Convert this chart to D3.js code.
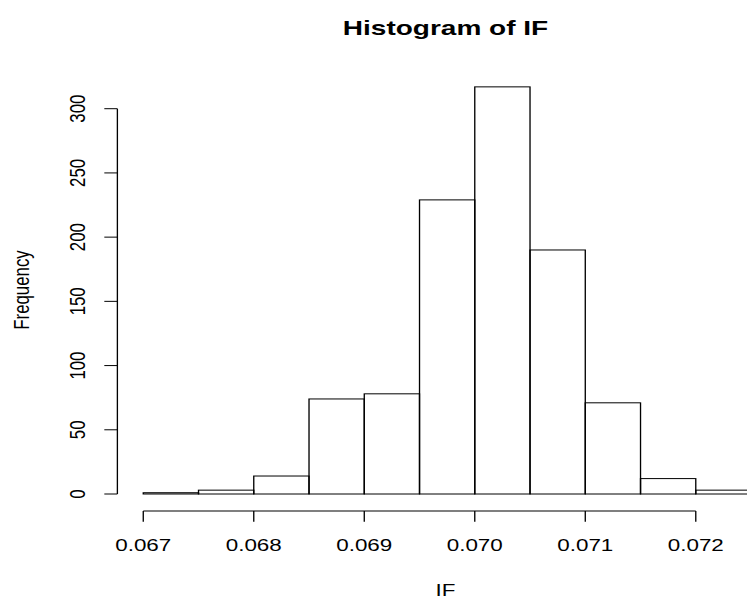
<!DOCTYPE html>
<html>
<head>
<meta charset="utf-8">
<script src="https://cdn.jsdelivr.net/npm/d3@7"></script>
<style>
  body { margin: 0; background: #fff; }
  text { font-family: "Liberation Sans", Arial, sans-serif; fill: #000; }
</style>
</head>
<body>
<script>
// histogram of IF, bins of width 0.0005
var breaks = [0.067, 0.0675, 0.068, 0.0685, 0.069, 0.0695, 0.070, 0.0705, 0.071, 0.0715, 0.072, 0.0725];
var counts = [1, 3, 14, 74, 78, 229, 317, 190, 71, 12, 3];
var xTicks = [0.067, 0.068, 0.069, 0.070, 0.071, 0.072];
var yTicks = [0, 50, 100, 150, 200, 250, 300];

var bins = counts.map(function (d, i) { return { x0: breaks[i], x1: breaks[i + 1], n: d }; });

// the picture is drawn 560 wide and stretched to 747
var W = 560, H = 599;
var svg = d3.select("body").append("svg")
      .attr("width", 747).attr("height", 599)
      .attr("viewBox", "0 0 " + W + " " + H)
      .attr("preserveAspectRatio", "none");

var x = d3.scaleLinear().domain([0.067, 0.072]).range([107.4, 521.6]);
var y = d3.scaleLinear().domain([0, 300]).range([494, 108.7]);

svg.selectAll("rect.bar")
      .data(bins)
      .enter().append("rect")
      .attr("class", "bar")
      .attr("x", function (d) { return x(d.x0); })
      .attr("y", function (d) { return y(d.n); })
      .attr("width", function (d) { return x(d.x1) - x(d.x0); })
      .attr("height", function (d) { return y(0) - y(d.n); })
      .attr("fill", "none")
      .attr("stroke", "#000")
      .attr("stroke-width", 1);

// x axis
var xAxis = svg.append("g").attr("transform", "translate(0,511)");
xAxis.append("line")
      .attr("x1", x(xTicks[0])).attr("x2", x(xTicks[xTicks.length - 1]))
      .attr("stroke", "#000");
xAxis.selectAll("line.tick")
      .data(xTicks)
      .enter().append("line")
      .attr("class", "tick")
      .attr("x1", function (d) { return x(d); }).attr("x2", function (d) { return x(d); })
      .attr("y1", 0).attr("y2", 10.7)
      .attr("stroke", "#000");
xAxis.selectAll("text")
      .data(xTicks)
      .enter().append("text")
      .attr("x", function (d) { return x(d); })
      .attr("y", 40.5)
      .attr("text-anchor", "middle")
      .attr("font-size", 16.8)
      .text(function (d) { return d3.format(".3f")(d); });

// y axis
var yAxis = svg.append("g").attr("transform", "translate(88,0)");
yAxis.append("line")
      .attr("y1", y(yTicks[0])).attr("y2", y(yTicks[yTicks.length - 1]))
      .attr("stroke", "#000");
yAxis.selectAll("line.tick")
      .data(yTicks)
      .enter().append("line")
      .attr("class", "tick")
      .attr("y1", function (d) { return y(d); }).attr("y2", function (d) { return y(d); })
      .attr("x1", 0).attr("x2", -9.8)
      .attr("stroke", "#000");
yAxis.selectAll("text")
      .data(yTicks)
      .enter().append("text")
      .attr("transform", function (d) { return "translate(-24.3," + y(d) + ") rotate(-90)"; })
      .attr("text-anchor", "middle")
      .attr("font-size", 16.8)
      .text(function (d) { return d; });

svg.append("text")
      .attr("x", 334).attr("y", 35)
      .attr("text-anchor", "middle")
      .attr("font-size", 21)
      .attr("font-weight", "bold")
      .text("Histogram of IF");

svg.append("text")
      .attr("x", 334).attr("y", 596.5)
      .attr("text-anchor", "middle")
      .attr("font-size", 16.8)
      .text("IF");

svg.append("text")
      .attr("transform", "translate(22,290) rotate(-90)")
      .attr("text-anchor", "middle")
      .attr("font-size", 16.8)
      .text("Frequency");
</script>
</body>
</html>
